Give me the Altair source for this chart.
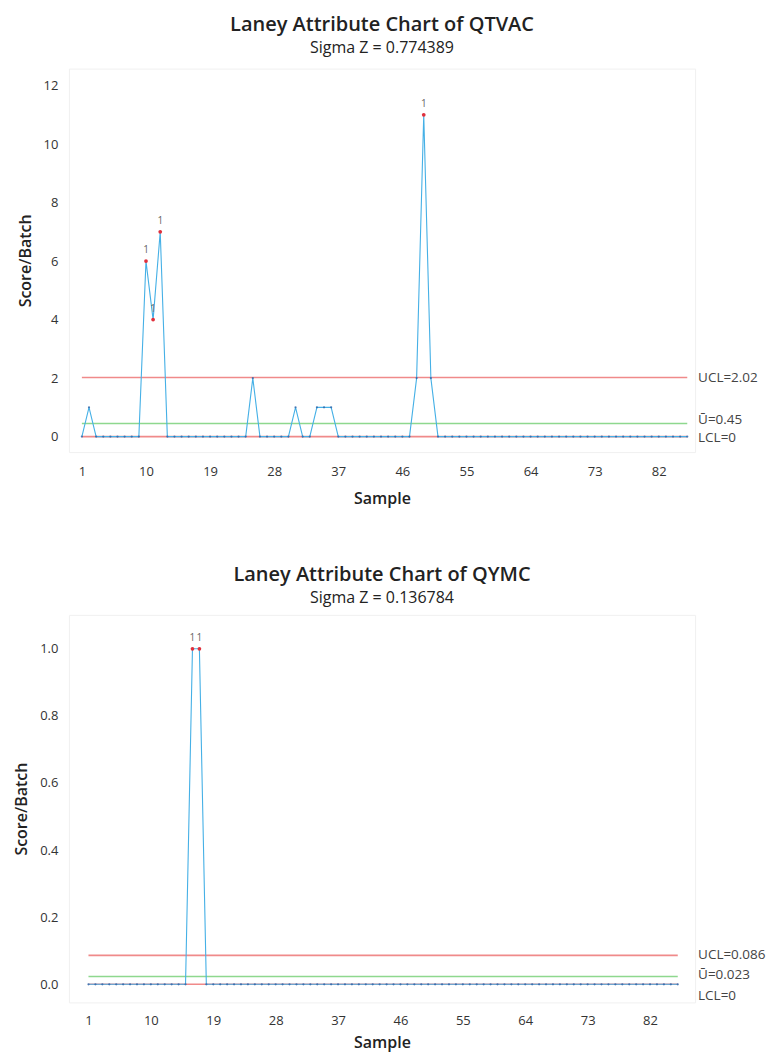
import altair as alt
import pandas as pd

FONT = "Open Sans"

samples = list(range(1, 87))

qtvac_values = [0, 1, 0, 0, 0, 0, 0, 0, 0, 6,
                4, 7, 0, 0, 0, 0, 0, 0, 0, 0,
                0, 0, 0, 0, 2, 0, 0, 0, 0, 0,
                1, 0, 0, 1, 1, 1, 0, 0, 0, 0,
                0, 0, 0, 0, 0, 0, 0, 2, 11, 2,
                0, 0, 0, 0, 0, 0, 0, 0, 0, 0,
                0, 0, 0, 0, 0, 0, 0, 0, 0, 0,
                0, 0, 0, 0, 0, 0, 0, 0, 0, 0,
                0, 0, 0, 0, 0, 0]
qtvac_flags = [10, 11, 12, 49]
qtvac_limits = [2.02, 0.45, 0]
qtvac_labels = ["UCL=2.02", "Ū=0.45", "LCL=0"]

qymc_values = [0, 0, 0, 0, 0, 0, 0, 0, 0, 0,
               0, 0, 0, 0, 0, 1, 1, 0, 0, 0,
               0, 0, 0, 0, 0, 0, 0, 0, 0, 0,
               0, 0, 0, 0, 0, 0, 0, 0, 0, 0,
               0, 0, 0, 0, 0, 0, 0, 0, 0, 0,
               0, 0, 0, 0, 0, 0, 0, 0, 0, 0,
               0, 0, 0, 0, 0, 0, 0, 0, 0, 0,
               0, 0, 0, 0, 0, 0, 0, 0, 0, 0,
               0, 0, 0, 0, 0, 0]
qymc_flags = [16, 17]
qymc_limits = [0.086, 0.023, 0]
qymc_labels = ["UCL=0.086", "Ū=0.023", "LCL=0"]

x_ticks = [1, 10, 19, 28, 37, 46, 55, 64, 73, 82]
qtvac_yticks = [0, 2, 4, 6, 8, 10, 12]
qymc_yticks = [0.0, 0.2, 0.4, 0.6, 0.8, 1.0]

kinds = ["UCL", "CL", "LCL"]
kind_colors = ["#F08A8A", "#8ED88E", "#F08A8A"]

LINE_COLOR = "#45B0E6"
DOT_COLOR = "#2E63A8"
FLAG_COLOR = "#E0303C"

W = 627


def panel(values, flags, limits, labels, label_dy, title, subtitle,
          xdom, ydom, yticks, yfmt, height, title_offset, xlabel_pad, xtitle_pad):
    df = pd.DataFrame({
        "Sample": samples,
        "Value": values,
        "Flag": [s in flags for s in samples],
    })
    lim = pd.DataFrame({
        "kind": kinds,
        "value": limits,
        "label": labels,
        "x0": [min(samples)] * 3,
        "x1": [max(samples)] * 3,
    })
    xscale = alt.Scale(domain=xdom, nice=False, zero=False)
    yscale = alt.Scale(domain=ydom, nice=False, zero=False)
    xaxis = alt.Axis(values=x_ticks, title="Sample", labelPadding=xlabel_pad,
                     titlePadding=xtitle_pad, labelFlush=False, grid=False,
                     domain=False, ticks=False)
    yaxis = alt.Axis(values=yticks, title="Score/Batch", format=yfmt,
                     labelPadding=11, titlePadding=10, grid=False,
                     domain=False, ticks=False)

    rules = alt.Chart(lim).mark_rule(strokeWidth=1.6).encode(
        x=alt.X("x0:Q", scale=xscale, axis=xaxis),
        x2="x1:Q",
        y=alt.Y("value:Q", scale=yscale, axis=yaxis),
        color=alt.Color("kind:N", scale=alt.Scale(domain=kinds, range=kind_colors), legend=None),
    )
    line = alt.Chart(df).mark_line(color=LINE_COLOR, strokeWidth=1.1).encode(
        x=alt.X("Sample:Q", scale=xscale, axis=xaxis),
        y=alt.Y("Value:Q", scale=yscale, axis=yaxis),
    )
    dots = alt.Chart(df).mark_point(filled=True, size=5, color=DOT_COLOR, opacity=0.8).encode(
        x=alt.X("Sample:Q", scale=xscale, axis=xaxis),
        y=alt.Y("Value:Q", scale=yscale, axis=yaxis),
    )
    base_flag = alt.Chart(df).transform_filter("datum.Flag")
    flag_dots = base_flag.mark_point(filled=True, size=14, color=FLAG_COLOR, opacity=1).encode(
        x=alt.X("Sample:Q", scale=xscale, axis=xaxis),
        y=alt.Y("Value:Q", scale=yscale, axis=yaxis),
    )
    flag_text = base_flag.mark_text(text="1", dy=-11, fontSize=10, font=FONT, color="#666").encode(
        x=alt.X("Sample:Q", scale=xscale, axis=xaxis),
        y=alt.Y("Value:Q", scale=yscale, axis=yaxis),
    )
    label_layers = []
    for k, dy in zip(kinds, label_dy):
        label_layers.append(
            alt.Chart(lim).transform_filter(alt.datum.kind == k).mark_text(
                align="left", baseline="middle", dx=0, dy=dy, fontSize=13.5,
                font=FONT, color="#444"
            ).encode(
                x=alt.value(W + 3),
                y=alt.Y("value:Q", scale=yscale, axis=yaxis),
                text="label:N",
            )
        )
    return alt.layer(rules, line, dots, flag_dots, flag_text, *label_layers).properties(
        width=W,
        height=height,
        title=alt.TitleParams(
            text=title, subtitle=subtitle, fontSize=20, fontWeight=600,
            subtitleFontSize=16, subtitleColor="#222", color="#222",
            anchor="middle", font=FONT, subtitleFont=FONT,
            subtitlePadding=5, offset=title_offset,
        ),
    )


top = panel(qtvac_values, qtvac_flags, qtvac_limits, qtvac_labels, [0, -3, 1],
            "Laney Attribute Chart of QTVAC", "Sigma Z = 0.774389",
            [-0.82, 87.1], [-0.53, 12.58], qtvac_yticks, "d", 384, 13, 13, 12)
bottom = panel(qymc_values, qymc_flags, qymc_limits, qymc_labels, [0, -2, 12],
               "Laney Attribute Chart of QYMC", "Sigma Z = 0.136784",
               [-1.82, 88.5], [-0.054, 1.101], qymc_yticks, ".1f", 388, 9, 12, 7)

chart = alt.vconcat(
    top, bottom, spacing=57, background="white",
    padding={"left": 5, "top": 5, "right": 0, "bottom": 0},
).configure_view(
    stroke="#f0f0f0", strokeWidth=1
).configure_axis(
    labelFont=FONT, titleFont=FONT, labelFontSize=13, titleFontSize=16,
    labelColor="#333", titleColor="#222", titleFontWeight=600,
)

chart.save("out.html", embed_options={"renderer": "svg", "actions": False})
